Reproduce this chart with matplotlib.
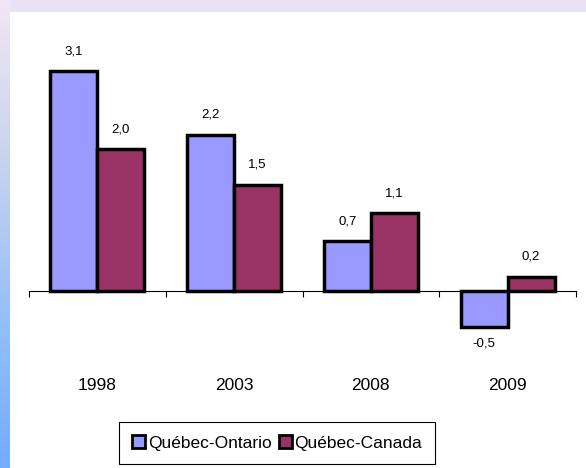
import numpy as np
import matplotlib.pyplot as plt
from matplotlib.colors import LinearSegmentedColormap
from matplotlib.patches import Patch

plt.rcParams['font.family'] = ['Liberation Sans', 'DejaVu Sans']

years = ['1998', '2003', '2008', '2009']
ontario = [3.1, 2.2, 0.7, -0.5]
canada = [2.0, 1.5, 1.1, 0.2]
labels_on = ['3,1', '2,2', '0,7', '-0,5']
labels_ca = ['2,0', '1,5', '1,1', '0,2']
series_names = ['Québec-Ontario', 'Québec-Canada']
col_on = '#9999FF'
col_ca = '#993366'

fig = plt.figure(figsize=(5.86, 4.68), dpi=100)
fig.patch.set_facecolor('white')

# background frame: lavender strip on top, gradient strip on the left
top = fig.add_axes([0, 1 - 12 / 468, 1, 12 / 468])
top.set_facecolor('#E8E2F4')
top.set_xticks([]); top.set_yticks([])
for s in top.spines.values():
    s.set_visible(False)

left = fig.add_axes([0, 0, 10 / 586, 1])
cmap = LinearSegmentedColormap.from_list('side', ['#F2E6F6', '#C8D4EE', '#96C0F8', '#74ACFF'])
left.imshow(np.linspace(0, 1, 256).reshape(-1, 1), aspect='auto', cmap=cmap)
left.axis('off')

ax = fig.add_axes([29 / 586, 0.2568, 547 / 586, 0.6524])
ax.set_xlim(0, 4)
ax.set_ylim(-0.8, 3.5)

x = np.arange(len(years)) + 0.5
w = 0.343
b1 = ax.bar(x - w / 2, ontario, w, color=col_on, edgecolor='black', linewidth=2.5)
b2 = ax.bar(x + w / 2, canada, w, color=col_ca, edgecolor='black', linewidth=2.5)

for rect, val, lab in zip(b1, ontario, labels_on):
    cx = rect.get_x() + rect.get_width() / 2
    if val >= 0:
        ax.annotate(lab, (cx, val), xytext=(0, 10), textcoords='offset points',
                    ha='center', va='bottom', fontsize=9.5)
    else:
        ax.annotate(lab, (cx, val), xytext=(0, -8), textcoords='offset points',
                    ha='center', va='top', fontsize=9.5)
for rect, val, lab in zip(b2, canada, labels_ca):
    cx = rect.get_x() + rect.get_width() / 2
    ax.annotate(lab, (cx, val), xytext=(0, 10), textcoords='offset points',
                ha='center', va='bottom', fontsize=9.5)

for s in ['top', 'right', 'left']:
    ax.spines[s].set_visible(False)
ax.spines['bottom'].set_position(('data', 0))
ax.spines['bottom'].set_linewidth(0.8)
ax.set_yticks([])
ax.set_xticks([0, 1, 2, 3, 4])
ax.set_xticklabels([])
ax.tick_params(axis='x', direction='out', length=4, width=0.8)
ax.set_facecolor('none')

for xi, yr in zip(x, years):
    ax.text(xi, -0.122, yr, transform=ax.get_xaxis_transform(),
            ha='center', va='center', fontsize=12.5)

handles = [Patch(facecolor=col_on, edgecolor='black', linewidth=2),
           Patch(facecolor=col_ca, edgecolor='black', linewidth=2)]
leg = fig.legend(handles, series_names, loc='center', bbox_to_anchor=(0.473, 0.053),
                 ncol=2, fancybox=False, edgecolor='black', framealpha=1,
                 fontsize=12.5, handlelength=0.75, handleheight=0.75,
                 handletextpad=0.15, columnspacing=0.4, borderpad=0.75,
                 borderaxespad=0)
leg.get_frame().set_linewidth(0.8)

fig.savefig('out.png', dpi=100)
